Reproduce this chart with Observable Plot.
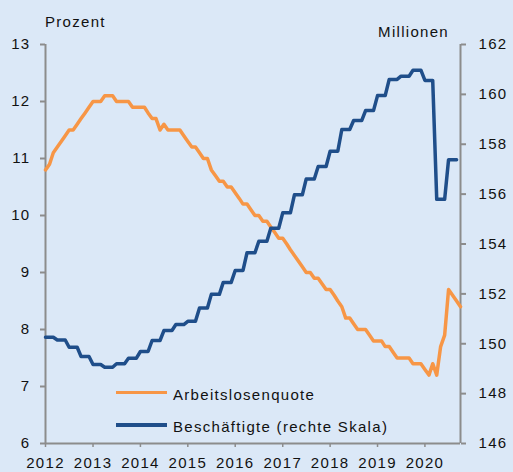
<!DOCTYPE html>
<html><head><meta charset="utf-8">
<script src="https://cdn.jsdelivr.net/npm/d3@7"></script>
<script src="https://cdn.jsdelivr.net/npm/@observablehq/plot@0.6"></script>
<style>
html,body{margin:0;padding:0;background:#dbe8f7;}
#chart{position:relative;width:513px;height:472px;font-family:"Liberation Sans",Arial,sans-serif;background:#dbe8f7;overflow:hidden;}
.lbl{position:absolute;font-size:15px;line-height:15px;letter-spacing:1.3px;color:#111;white-space:nowrap;}
.sw{position:absolute;height:3.5px;width:51px;}
</style></head><body><div id="chart"></div>
<script>
// Arbeitslosenquote (Prozent), monatlich ab Jan 2012
const unemployment = [
  10.8,10.9,11.1,11.2,11.3,11.4,11.5,11.5,11.6,11.7,11.8,11.9,
  12.0,12.0,12.0,12.1,12.1,12.1,12.0,12.0,12.0,12.0,11.9,11.9,
  11.9,11.9,11.8,11.7,11.7,11.5,11.6,11.5,11.5,11.5,11.5,11.4,
  11.3,11.2,11.2,11.1,11.0,11.0,10.8,10.7,10.6,10.6,10.5,10.5,
  10.4,10.3,10.2,10.2,10.1,10.0,10.0,9.9,9.9,9.8,9.7,9.6,
  9.6,9.5,9.4,9.3,9.2,9.1,9.0,9.0,8.9,8.9,8.8,8.7,
  8.7,8.6,8.5,8.4,8.2,8.2,8.1,8.0,8.0,8.0,7.9,7.8,
  7.8,7.8,7.7,7.7,7.6,7.5,7.5,7.5,7.5,7.4,7.4,7.4,
  7.3,7.2,7.4,7.2,7.7,7.9,8.7,8.6,8.5,8.4
];
// Beschäftigte (Millionen), vierteljährlich ab Q1 2012
const employment = [
  150.26,150.15,149.86,149.49,
  149.17,149.06,149.20,149.42,
  149.69,150.13,150.53,150.77,
  150.90,151.43,151.98,152.46,
  152.94,153.65,154.11,154.63,
  155.25,155.97,156.61,157.11,
  157.72,158.59,158.95,159.35,
  159.95,160.60,160.73,160.97,
  160.56,155.79,157.38
];
const yearTicks = [2012,2013,2014,2015,2016,2017,2018,2019,2020];
const leftTicks = [6,7,8,9,10,11,12,13];
const rightTicks = [146,148,150,152,154,156,158,160,162];
const seriesNames = ["Arbeitslosenquote","Beschäftigte (rechte Skala)"];
const colors = ["#f79646","#1f4e8a"];
const xStart = new Date(Date.UTC(2012,0,1));
const xEnd = new Date(Date.UTC(2020,9,1));

const leftDom = [6,13], rightDom = [146,162];
const toLeft = v => leftDom[0] + (v - rightDom[0]) * (leftDom[1]-leftDom[0])/(rightDom[1]-rightDom[0]);
const fromLeft = v => rightDom[0] + (v - leftDom[0]) * (rightDom[1]-rightDom[0])/(leftDom[1]-leftDom[0]);

const uRows = unemployment.map((v,i)=>({date:new Date(Date.UTC(2012,i,1)), value:v}));
const eRows = [];
employment.forEach((v,q)=>{ for(let m=0;m<3;m++) eRows.push({date:new Date(Date.UTC(2012,q*3+m,1)), value:toLeft(v)}); });

const gray = "#8c8c8c";
const plot = Plot.plot({
  width:513, height:472,
  marginLeft:45, marginRight:53, marginTop:44, marginBottom:29,
  style:{background:"transparent", fontFamily:"Liberation Sans, Arial, sans-serif", fontSize:"15px", color:"#111", letterSpacing:"1.3px"},
  x:{type:"utc", domain:[xStart,xEnd]},
  y:{domain:leftDom},
  marks:[
    Plot.axisX({ticks:yearTicks.map(y=>new Date(Date.UTC(y,0,1))), tickFormat:"%Y", tickSize:4, tickPadding:10, stroke:gray, strokeWidth:1.5, fill:"#111", label:null}),
    Plot.axisY({anchor:"left", ticks:leftTicks, tickFormat:d=>String(d), tickSize:5, tickPadding:10, stroke:gray, strokeWidth:2, fill:"#111", label:null}),
    Plot.axisY({anchor:"right", ticks:rightTicks.map(toLeft), tickFormat:d=>String(Math.round(fromLeft(d))), tickSize:5, tickPadding:13, stroke:gray, strokeWidth:2, fill:"#111", label:null}),
    Plot.ruleY([leftDom[0]], {stroke:gray, strokeWidth:2}),
    Plot.ruleX([xStart], {stroke:gray, strokeWidth:2}),
    Plot.ruleX([xEnd], {stroke:gray, strokeWidth:2}),
    Plot.line(uRows, {x:"date", y:"value", stroke:colors[0], strokeWidth:3.5}),
    Plot.line(eRows, {x:"date", y:"value", stroke:colors[1], strokeWidth:3.5})
  ]
});
const chart = document.getElementById("chart");
chart.appendChild(plot);

function addLabel(text, css){ const d=document.createElement("div"); d.className="lbl"; d.textContent=text; Object.assign(d.style, css); chart.appendChild(d); return d; }
addLabel("Prozent", {left:"45px", top:"14px"});
addLabel("Millionen", {right:"64px", top:"24px"});
// legend
seriesNames.forEach((name,i)=>{
  const sw=document.createElement("div"); sw.className="sw";
  Object.assign(sw.style,{left:"116px", top:(390.5+i*32.5)+"px", background:colors[i]});
  chart.appendChild(sw);
  addLabel(name, {left:"173px", top:(386.5+i*32.5)+"px"});
});
</script></body></html>
